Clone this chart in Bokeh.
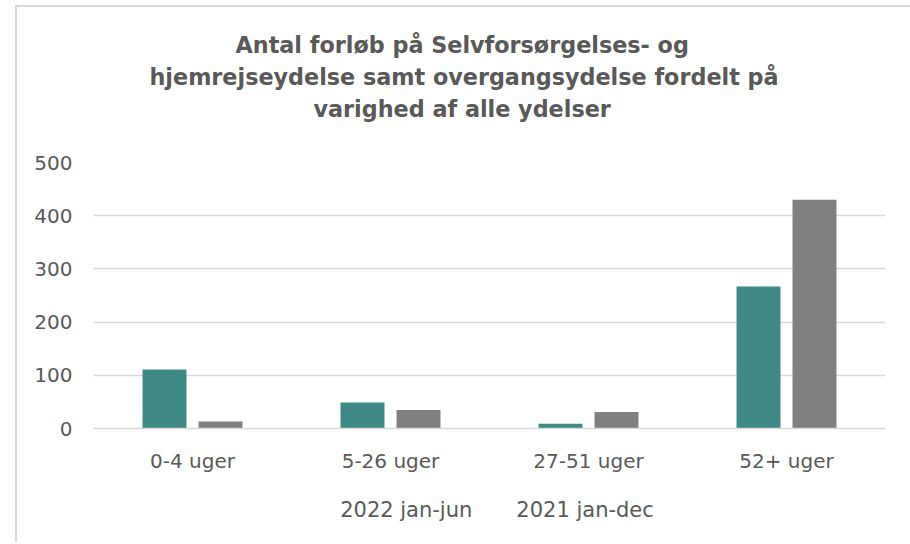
from bokeh.plotting import figure
from bokeh.layouts import column
from bokeh.models import (ColumnDataSource, FactorRange, Range1d, Legend, LegendItem, Title,
                          FixedTicker)
from bokeh.transform import dodge
from bokeh.embed import file_html
from bokeh.resources import INLINE

categories = ["0-4 uger", "5-26 uger", "27-51 uger", "52+ uger"]
series_names = ["2022 jan-jun", "2021 jan-dec"]
values_2022 = [111, 49, 9, 267]
values_2021 = [13, 35, 31, 430]
y_ticks = [0, 100, 200, 300, 400, 500]
title_lines = ["Antal forløb på Selvforsørgelses- og",
               "hjemrejseydelse samt overgangsydelse fordelt på",
               "varighed af alle ydelser"]

FONT = "DejaVu Sans"
TEXT = "#595959"
GRID = "#d9d9d9"
TEAL = "#3f8a87"
GREY = "#808080"

src = ColumnDataSource(dict(cat=categories, a=values_2022, b=values_2021))

p = figure(frame_width=792, frame_height=266, x_range=FactorRange(*categories, range_padding=0),
           y_range=Range1d(0, 500), output_backend="svg", toolbar_location=None,
           min_border_left=76, min_border_right=25, min_border_top=155, min_border_bottom=50)
p.x_range.factor_padding = 0
p.outline_line_color = None
p.title = None

p.vbar(x=dodge("cat", -0.1414, range=p.x_range), top="a", width=0.222, source=src,
       fill_color=TEAL, line_color=None)
p.vbar(x=dodge("cat", 0.1414, range=p.x_range), top="b", width=0.222, source=src,
       fill_color=GREY, line_color=None)

# spacer between frame and title block
p.add_layout(Title(text=" ", text_font_size="16px", standoff=20), "above")
offsets = [142, 56, 220]
for line, off in reversed(list(zip(title_lines, offsets))):
    p.add_layout(Title(text=line, align="left", offset=off, standoff=4, text_font=FONT,
                       text_font_size="22.3px", text_font_style="bold", text_color=TEXT), "above")

p.xgrid.grid_line_color = None
p.ygrid.grid_line_color = GRID
p.ygrid.grid_line_width = 1.5
p.yaxis.ticker = FixedTicker(ticks=y_ticks)
p.yaxis.axis_line_color = None
p.yaxis.major_tick_line_color = None
p.yaxis.minor_tick_line_color = None
p.yaxis.major_label_standoff = 15
p.yaxis.major_label_text_font = FONT
p.yaxis.major_label_text_font_size = "20px"
p.yaxis.major_label_text_color = TEXT

p.xaxis.axis_line_color = GRID
p.xaxis.axis_line_width = 1.5
p.xaxis.major_tick_line_color = None
p.xaxis.minor_tick_line_color = None
p.xaxis.major_label_standoff = 14
p.xaxis.major_label_text_font = FONT
p.xaxis.major_label_text_font_size = "20px"
p.xaxis.major_label_text_color = TEXT

# legend strip below the chart
lf = figure(width=893, height=64, output_backend="svg", toolbar_location=None,
            x_axis_location=None, y_axis_location=None, min_border=0,
            x_range=Range1d(0, 1), y_range=Range1d(0, 1))
lf.outline_line_color = None
lf.grid.grid_line_color = None
empty = ColumnDataSource(dict(x=[], y=[]))
l1 = lf.vbar(x="x", top="y", width=0.1, source=empty, fill_color=TEAL, line_color=None)
l2 = lf.vbar(x="x", top="y", width=0.1, source=empty, fill_color=GREY, line_color=None)
legend = Legend(items=[LegendItem(label=series_names[0], renderers=[l1]),
                       LegendItem(label=series_names[1], renderers=[l2])],
                orientation="horizontal", location="center",
                label_text_font=FONT, label_text_font_size="21px", label_text_color=TEXT,
                glyph_width=12, glyph_height=12, label_standoff=4, spacing=28,
                border_line_color=None, background_fill_alpha=0, margin=0, padding=0)
lf.add_layout(legend, "center")

layout = column(p, lf, spacing=0)
layout.styles = {"border-left": "2px solid #d9d9d9", "border-top": "2px solid #d9d9d9",
                 "margin-left": "15px", "margin-top": "5px"}

open("out.html", "w").write(file_html(layout, INLINE))
